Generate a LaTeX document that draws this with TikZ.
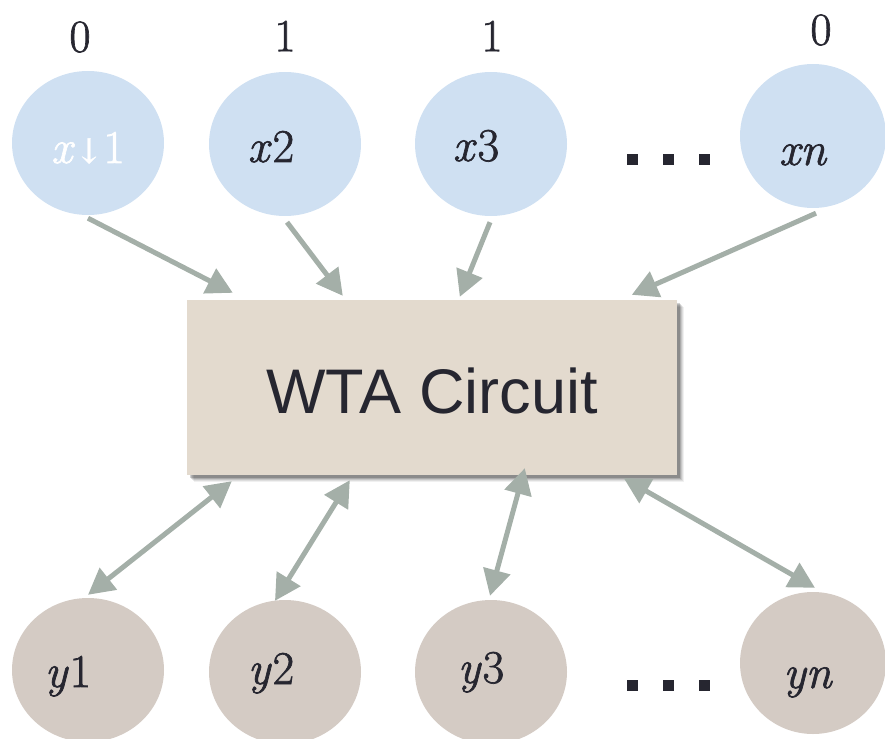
\documentclass[tikz,border=0pt]{standalone}
\usepackage{fontspec}
\newfontfamily\arial{Liberation Sans}
\newfontfamily\labfont[FakeBold=1.4,ItalicFeatures={FakeBold=1.4}]{Latin Modern Roman}
\newfontfamily\arrowfont[FakeBold=1.0]{DejaVu Serif}
\usetikzlibrary{arrows.meta,shapes.geometric}

\definecolor{inblue}{HTML}{CFE0F2}
\definecolor{outtan}{HTML}{D4CBC4}
\definecolor{boxtan}{HTML}{E3DACE}
\definecolor{linkgray}{HTML}{A4AFA8}
\definecolor{inkdark}{HTML}{262630}

\newcommand{\uvar}[2]{\textit{#1}\kern1pt#2}

\tikzset{
  inunit/.style={ellipse, fill=inblue, draw=none, inner sep=0pt,
    minimum width=152pt, minimum height=144pt},
  outunit/.style={ellipse, fill=outtan, draw=none, inner sep=0pt,
    minimum width=152pt, minimum height=144pt},
  unitlabel/.style={anchor=base, inner sep=0pt, text=inkdark,
    font=\labfont\fontsize{47}{50}\selectfont},
  bitlabel/.style={inner sep=0pt, text=inkdark,
    font=\labfont\fontsize{46}{50}\selectfont},
  dotsq/.style={rectangle, fill=inkdark, inner sep=0pt,
    minimum width=11pt, minimum height=11pt},
  feed/.style={draw=linkgray, line width=5pt,
    -{Triangle[length=26pt,width=27pt]}},
  link/.style={draw=linkgray, line width=5pt,
    {Triangle[length=26pt,width=27pt]}-{Triangle[length=26pt,width=27pt]}},
}

\begin{document}
\begin{tikzpicture}[x=1pt,y=-1pt]
\useasboundingbox (0,0) rectangle (885,738);

% input units
\node[inunit] (x1) at (88,143) {};
\node[inunit] (x2) at (285,144) {};
\node[inunit] (x3) at (491,144) {};
\node[inunit, minimum width=146pt] (xn) at (813,136) {};

\node[unitlabel, text=white] (lx1) at (88,163)
  {\textit{x}{\arrowfont\fontsize{34}{40}\selectfont↓}1};
\node[unitlabel] (lx2) at (271,162) {\uvar{x}{2}};
\node[unitlabel] (lx3) at (476,161) {\uvar{x}{3}};
\node[unitlabel] (lxn) at (803,165) {\textit{xn}};

% input bits
\node[bitlabel] (b1) at (80,37) {0};
\node[bitlabel] (b2) at (285,36) {1};
\node[bitlabel] (b3) at (492,36) {1};
\node[bitlabel] (bn) at (821,30) {0};

% ellipsis marks
\node[dotsq] (dt1) at (632,160) {};
\node[dotsq] (dt2) at (668,160) {};
\node[dotsq] (dt3) at (704,160) {};
\node[dotsq] (db1) at (632,685) {};
\node[dotsq] (db2) at (668,685) {};
\node[dotsq] (db3) at (704,685) {};

% circuit box with soft shadow
\foreach \o/\a in {7/0.06,6/0.08,5/0.10,4/0.14,3/0.18}
  \fill[black, opacity=\a] (187+\o,300+\o) rectangle (677+\o,475+\o);
\node[rectangle, fill=boxtan, minimum width=490pt, minimum height=175pt,
  inner sep=0pt] (wta) at (432,387.5) {};
\node[text=inkdark, font=\arial\fontsize{63}{70}\selectfont, inner sep=0pt]
  (wtalabel) at (432,391) {WTA Circuit};

% output units
\node[outunit] (y1) at (88,670) {};
\node[outunit] (y2) at (285,672) {};
\node[outunit] (y3) at (491,672) {};
\node[outunit, minimum width=146pt, minimum height=142pt] (yn) at (813,663) {};

\node[unitlabel] (ly1) at (68,687) {\uvar{y}{1}};
\node[unitlabel] (ly2) at (271,684) {\uvar{y}{2}};
\node[unitlabel] (ly3) at (481,683) {\uvar{y}{3}};
\node[unitlabel] (lyn) at (808,688) {\textit{yn}};

% feed-forward connections
\draw[feed] ([yshift=-3pt]x1.south) -- ([xshift=46pt,yshift=7pt]wta.north west);
\draw[feed] ([xshift=2pt,yshift=-6pt]x2.south) -- ([xshift=156pt,yshift=4pt]wta.north west);
\draw[feed] ([xshift=-1pt,yshift=-6pt]x3.south) -- ([xshift=273pt,yshift=3pt]wta.north west);
\draw[feed] ([xshift=3pt,yshift=-5pt]xn.south) -- ([xshift=445pt,yshift=5pt]wta.north west);

% bidirectional connections
\draw[link] ([xshift=45pt,yshift=-6pt]wta.south west) -- ([yshift=3pt]y1.north);
\draw[link] ([xshift=163pt,yshift=-5pt]wta.south west) -- ([xshift=-10pt,yshift=-1pt]y2.north);
\draw[link] ([xshift=338pt,yshift=7pt]wta.south west) -- ([xshift=-1pt,yshift=4pt]y3.north);
\draw[link] ([xshift=437pt,yshift=-3pt]wta.south west) -- ([xshift=2pt,yshift=4pt]yn.north);
\end{tikzpicture}
\end{document}
